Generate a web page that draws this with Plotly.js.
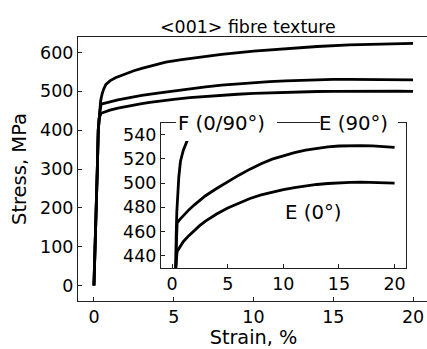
<!DOCTYPE html>
<html><head><meta charset="utf-8">
<script src="https://cdn.plot.ly/plotly-3.0.1.min.js"></script>
<style>html,body{margin:0;padding:0;overflow:hidden;background:#fff}#chart{width:432px;height:349px}</style>
</head><body><div id="chart"></div>
<script>
// E (0°)
const strainE0 = [0, 0.08, 0.15, 0.21, 0.27, 0.32, 0.45, 0.7, 1, 1.5, 2, 2.5, 3, 3.5, 4, 5, 6, 7, 8, 9, 10, 11, 12, 13, 14, 15, 16, 17, 18, 19, 20];
const stressE0 = [0, 100, 200, 300, 400, 430, 443.5, 447.5, 451.5, 456.5, 461, 465, 468.5, 471.6, 474.4, 479.4, 483.6, 487.2, 490.2, 492.6, 494.6, 496.3, 497.7, 498.8, 499.6, 500.2, 500.6, 500.7, 500.6, 500.3, 500];
// E (90°)
const strainE90 = [0, 0.08, 0.15, 0.21, 0.27, 0.32, 0.38, 0.45, 0.7, 1, 1.5, 2, 2.5, 3, 4, 5, 6, 7, 8, 9, 10, 11, 12, 13, 14, 15, 16, 17, 18, 19, 20];
const stressE90 = [0, 100, 200, 300, 400, 430, 450, 467, 470, 473.2, 477.8, 482, 486, 489.5, 495.5, 501.3, 506.5, 511.5, 516, 519.7, 522.7, 525.2, 527.2, 528.7, 529.8, 530.6, 531, 531, 530.7, 530.1, 529.4];
// F (0/90°)
const strainF = [0, 0.08, 0.15, 0.21, 0.27, 0.32, 0.36, 0.42, 0.51, 0.6, 0.75, 1, 1.35, 2, 2.5, 3, 3.5, 4.5, 5.5, 6.5, 8, 10, 12, 14, 16, 18, 20];
const stressF = [0, 100, 200, 300, 400, 430, 455, 476, 493, 505, 518, 527, 535, 546, 553, 559, 564.5, 575, 582, 588, 595.5, 603.5, 610, 615.5, 619.5, 622, 623.5];

const xTicks = [0, 5, 10, 15, 20];
const yTicksMain = [0, 100, 200, 300, 400, 500, 600];
const yTicksInset = [440, 460, 480, 500, 520, 540];

const FONT = 'DejaVu Sans';
const lineStyle = {color: '#000', width: 2.8};

const series = [[strainE0, stressE0], [strainE90, stressE90], [strainF, stressF]];
const traces = [];
series.forEach(([x, y]) => {
  traces.push({x: x, y: y, type: 'scatter', mode: 'lines', line: lineStyle, xaxis: 'x', yaxis: 'y', hoverinfo: 'skip'});
  traces.push({x: x, y: y, type: 'scatter', mode: 'lines', line: lineStyle, xaxis: 'x2', yaxis: 'y2', hoverinfo: 'skip'});
});

const axisCommon = {
  showgrid: false, zeroline: false, showline: true, linecolor: '#222', linewidth: 1,
  ticks: 'inside', ticklen: 4, tickwidth: 1, tickcolor: '#222',
  tickfont: {family: FONT, size: 17.5, color: '#000'}
};

const layout = {
  width: 432, height: 349,
  margin: {l: 78, r: 3, t: 37, b: 48},
  paper_bgcolor: '#fff', plot_bgcolor: '#fff',
  showlegend: false,
  font: {family: FONT, size: 18, color: '#000'},
  title: {text: '&lt;001&gt; fibre texture', font: {family: FONT, size: 17.4, color: '#000'},
          x: 0.484, xref: 'paper', xanchor: 'center', y: 0.922, yref: 'container', yanchor: 'middle'},
  xaxis: Object.assign({}, axisCommon, {range: [-1, 21], tickvals: xTicks, mirror: true,
          title: {text: 'Strain, %', font: {family: FONT, size: 19.3, color: '#000'}, standoff: 7}}),
  yaxis: Object.assign({}, axisCommon, {range: [-40, 640], tickvals: yTicksMain, mirror: false,
          title: {text: 'Stress, MPa', font: {family: FONT, size: 19.5, color: '#000'}, standoff: 8}}),
  xaxis2: Object.assign({}, axisCommon, {domain: [0.2365, 0.9336], anchor: 'y2', range: [-1, 21], tickvals: xTicks, mirror: true}),
  yaxis2: Object.assign({}, axisCommon, {domain: [0.126, 0.676], anchor: 'x2', range: [430, 550], tickvals: yTicksInset, mirror: true}),
  shapes: [
    {type: 'rect', xref: 'paper', yref: 'paper', x0: 0.279, x1: 0.567, y0: 0.606, y1: 0.7235, fillcolor: '#fff', line: {width: 0}, layer: 'above'},
    {type: 'rect', xref: 'paper', yref: 'paper', x0: 0.6895, x1: 0.9117, y0: 0.6326, y1: 0.7235, fillcolor: '#fff', line: {width: 0}, layer: 'above'}
  ],
  annotations: [
    {text: 'F (0/90°)', xref: 'x2', yref: 'y2', x: 4.4, y: 548.8, showarrow: false, xanchor: 'center', yanchor: 'middle', font: {family: FONT, size: 19.7, color: '#000'}},
    {text: 'E (90°)', xref: 'x2', yref: 'y2', x: 16.3, y: 548.8, showarrow: false, xanchor: 'center', yanchor: 'middle', font: {family: FONT, size: 19.7, color: '#000'}},
    {text: 'E (0°)', xref: 'x2', yref: 'y2', x: 12.7, y: 475.6, showarrow: false, xanchor: 'center', yanchor: 'middle', font: {family: FONT, size: 19.7, color: '#000'}}
  ]
};

Plotly.newPlot('chart', traces, layout, {staticPlot: true, displayModeBar: false});
</script>
</body></html>
